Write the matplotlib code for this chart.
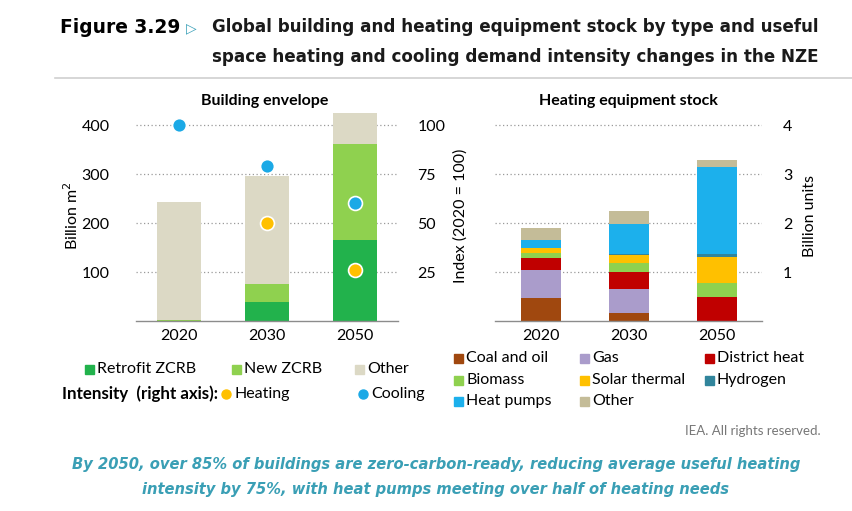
import matplotlib.pyplot as plt
import numpy as np
from matplotlib.lines import Line2D
from matplotlib.patches import Rectangle

W, H = 852, 511

years = ["2020", "2030", "2050"]

# Building envelope (billion m2)
retrofit_zcrb = [1, 39, 165]
new_zcrb = [1, 36, 197]
other_bldg = [241, 220, 63]
# Intensity index (2020 = 100), right axis
heating_idx = [100, 50, 26]
cooling_idx = [100, 79, 60]

# Heating equipment stock (billion units)
equip_names = ["Coal and oil", "Gas", "District heat", "Biomass",
               "Solar thermal", "Hydrogen", "Heat pumps", "Other"]
coal_oil = [0.47, 0.17, 0.0]
gas = [0.57, 0.48, 0.0]
district_heat = [0.25, 0.36, 0.49]
biomass = [0.10, 0.17, 0.28]
solar_thermal = [0.09, 0.17, 0.54]
hydrogen = [0.0, 0.01, 0.05]
heat_pumps = [0.18, 0.61, 1.78]
other_equip = [0.24, 0.27, 0.14]

BLDG_COLORS = ["#22b24c", "#8fd14f", "#dcd9c5"]
EQUIP_COLORS = ["#a0480f", "#aa9ccb", "#c00000", "#8fd14f",
                "#ffc000", "#31859c", "#1cb0ec", "#c4bc98"]
HEAT_C = "#ffc000"
COOL_C = "#1ba9e6"
GRID_C = "#9a9a9a"
FONT = "Lato"

plt.rcParams["font.family"] = [FONT, "DejaVu Sans"]

fig = plt.figure(figsize=(W / 100, H / 100), dpi=100)


def px_axes(x0, x1, y_top, y_bot):
    return fig.add_axes([x0 / W, 1 - y_bot / H, (x1 - x0) / W, (y_bot - y_top) / H])


def style(ax):
    for s in ["top", "right", "left"]:
        ax.spines[s].set_visible(False)
    ax.spines["bottom"].set_color("#8c8c8c")
    ax.spines["bottom"].set_linewidth(1.0)
    ax.tick_params(axis="x", length=0, labelsize=11.5, pad=6)
    ax.tick_params(axis="y", length=0)
    ax.set_axisbelow(True)


x = np.arange(3)

# ---- left: building envelope
ax1 = px_axes(136, 398, 110.3, 321)
style(ax1)
ax1.set_xlim(-0.489, 2.489)
ax1.set_ylim(0, 430)
ax1.set_yticks([100, 200, 300, 400])
ax1.yaxis.grid(True, linestyle=(0, (1, 2)), color=GRID_C, linewidth=0.9)
ax1.tick_params(axis="y", labelsize=11.5, pad=19)
bottom = np.zeros(3)
for vals, c in zip([retrofit_zcrb, new_zcrb, other_bldg], BLDG_COLORS):
    ax1.bar(x, vals, width=0.49, bottom=bottom, color=c, zorder=2)
    bottom += np.array(vals)
ax1.set_xticks(x, years)
ax1.set_ylabel("Billion m$^2$", fontsize=11.5, labelpad=0)

ax1r = ax1.twinx()
ax1r.set_ylim(0, 107.5)
ax1r.set_yticks([25, 50, 75, 100])
for s in ["top", "right", "left", "bottom"]:
    ax1r.spines[s].set_visible(False)
ax1r.tick_params(axis="y", length=0, labelsize=11.5, pad=14)
ax1r.plot(x, heating_idx, "o", color=HEAT_C, ms=10, mec="white", mew=1.2,
          zorder=3)
ax1r.plot(x, cooling_idx, "o", color=COOL_C, ms=10, mec="white", mew=1.2,
          zorder=4)
ax1r.set_ylabel("Index (2020 = 100)", fontsize=11.5, labelpad=6)
ax1.set_title("Building envelope", fontsize=11.5, fontweight="bold", pad=4,
              x=0.49)

# ---- right: heating equipment stock
ax2 = px_axes(495, 762, 110.3, 321)
style(ax2)
ax2.set_xlim(-0.523, 2.511)
ax2.set_ylim(0, 4.3)
ax2.yaxis.grid(True, linestyle=(0, (1, 2)), color=GRID_C, linewidth=0.9)
ax2.yaxis.tick_right()
ax2.yaxis.set_label_position("right")
ax2.set_yticks([1, 2, 3, 4])
ax2.tick_params(axis="y", labelsize=11.5, pad=15)
bottom = np.zeros(3)
series = [coal_oil, gas, district_heat, biomass, solar_thermal, hydrogen,
          heat_pumps, other_equip]
for vals, c in zip(series, EQUIP_COLORS):
    ax2.bar(x, vals, width=0.455, bottom=bottom, color=c, zorder=2)
    bottom += np.array(vals)
ax2.set_xticks(x, years)
ax2.set_ylabel("Billion units", fontsize=11.5, labelpad=8)
ax2.set_title("Heating equipment stock", fontsize=11.5, fontweight="bold",
              pad=4)

# ---- legends (drawn in figure pixel coords)
def fx(px):
    return px / W


def fy(py):
    return 1 - py / H


def square(px, py, c, s=9):
    fig.patches.append(Rectangle((fx(px - s / 2), fy(py + s / 2)), s / W, s / H,
                                 transform=fig.transFigure, color=c))


def dot(px, py, c):
    fig.lines.append(Line2D([fx(px)], [fy(py)], marker="o", ms=6.5, color=c,
                            transform=fig.transFigure))


def label(px, py, s, **kw):
    fig.text(fx(px), fy(py), s, va="center", ha="left", fontsize=11.5, **kw)


left_leg = [("Retrofit ZCRB", 89, 369), ("New ZCRB", 236, 369), ("Other", 359, 369)]
for (name, px, py), c in zip(left_leg, BLDG_COLORS):
    square(px, py, c)
    label(px + 8, py, name)
fig.text(fx(218), fy(394), "Intensity  (right axis):", ha="right", va="center",
         fontsize=12.2, fontweight="bold")
dot(226, 394, HEAT_C)
label(234, 394, "Heating")
dot(363, 394, COOL_C)
label(371, 394, "Cooling")

cols = [458, 584, 709]
rows = [358, 380, 401]
for i, (name, c) in enumerate(zip(equip_names, EQUIP_COLORS)):
    px, py = cols[i % 3], rows[i // 3]
    square(px, py, c)
    label(px + 8, py, name)

# ---- titles and notes
fig.text(fx(60), fy(27), "Figure 3.29", fontsize=13.4, fontweight="bold",
         va="center", ha="left", family="DejaVu Sans")
fig.text(fx(186), fy(28), "\u25b7", fontsize=10, color="#3aa0b8", va="center",
         ha="left", family="DejaVu Sans")
title_kw = dict(fontsize=12.05, fontweight="bold", va="center", ha="left",
                family="DejaVu Sans", color="#1a1a1a")
fig.text(fx(212), fy(27),
         "Global building and heating equipment stock by type and useful",
         **title_kw)
fig.text(fx(212), fy(57),
         "space heating and cooling demand intensity changes in the NZE",
         **title_kw)
fig.add_artist(Line2D([fx(55), 1.0], [fy(78), fy(78)], color="#d0d0d0",
                      lw=1.2, transform=fig.transFigure))

fig.text(fx(821), fy(431), "IEA. All rights reserved.", fontsize=9.5,
         color="#777777", ha="right", va="center")
cap_kw = dict(fontsize=10.6, fontweight="bold", style="italic", color="#3a9fb5",
              ha="center", va="center", family="DejaVu Sans")
fig.text(fx(436), fy(464),
         "By 2050, over 85% of buildings are zero-carbon-ready, reducing average useful heating",
         **cap_kw)
fig.text(fx(436), fy(489),
         "intensity by 75%, with heat pumps meeting over half of heating needs",
         **cap_kw)

fig.savefig("out.png", dpi=100)
